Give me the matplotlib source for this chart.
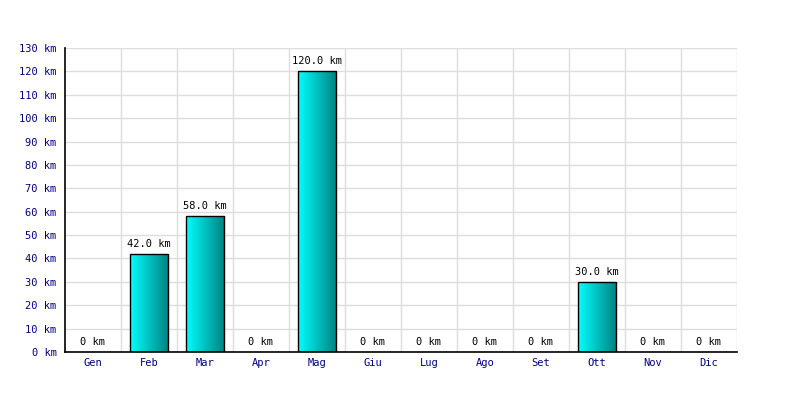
import numpy as np
import matplotlib.pyplot as plt
from matplotlib.patches import Rectangle
from matplotlib.colors import LinearSegmentedColormap

# monthly distance (km)
months = ['Gen', 'Feb', 'Mar', 'Apr', 'Mag', 'Giu', 'Lug', 'Ago', 'Set', 'Ott', 'Nov', 'Dic']
km = [0, 42, 58, 0, 120, 0, 0, 0, 0, 30, 0, 0]
yticks = list(range(0, 131, 10))

plt.rcParams['font.family'] = 'DejaVu Sans Mono'

fig = plt.figure(figsize=(8, 4), dpi=100)
ax = fig.add_axes([0.08125, 0.12, 0.84, 0.76])

x = np.arange(len(months))

# grid
ax.set_yticks(yticks)
ax.set_yticklabels([f'{v} km' for v in yticks])
ax.set_xticks(x)
ax.set_xticklabels(months)
for xv in np.arange(0.5, len(months), 1):
    ax.axvline(xv, color='#dddddd', lw=1, zorder=0)
ax.yaxis.grid(True, color='#dddddd', lw=1, zorder=0)
ax.set_axisbelow(True)

for s in ['top', 'right']:
    ax.spines[s].set_visible(False)
ax.spines['left'].set_linewidth(1.2)
ax.spines['bottom'].set_linewidth(1.2)
ax.tick_params(axis='y', length=0, labelsize=7.5, labelcolor='#000080', pad=6)
ax.tick_params(axis='x', length=0, labelsize=7.5, labelcolor='#000080', pad=4)

# gradient bars
grad = np.linspace(0, 1, 256).reshape(1, -1)
cmap = LinearSegmentedColormap.from_list('cy', ['#00ffff', '#008080'])
w = 0.68
for xi, v in zip(x, km):
    if v > 0:
        rect = Rectangle((xi - w / 2, 0), w, v, facecolor='none', edgecolor='black', lw=1, zorder=3)
        ax.add_patch(rect)
        im = ax.imshow(grad, cmap=cmap, aspect='auto', extent=(xi - w / 2, xi + w / 2, 0, v), zorder=2)
        im.set_clip_path(rect)
        ax.text(xi, v + 2.2, f'{v:.1f} km', ha='center', va='bottom', fontsize=7.5, color='black')
    else:
        ax.text(xi, 2.2, '0 km', ha='center', va='bottom', fontsize=7.5, color='black')

ax.set_xlim(-0.5, len(months) - 0.5)
ax.set_ylim(0, 130)

fig.savefig('out.png', dpi=100)
